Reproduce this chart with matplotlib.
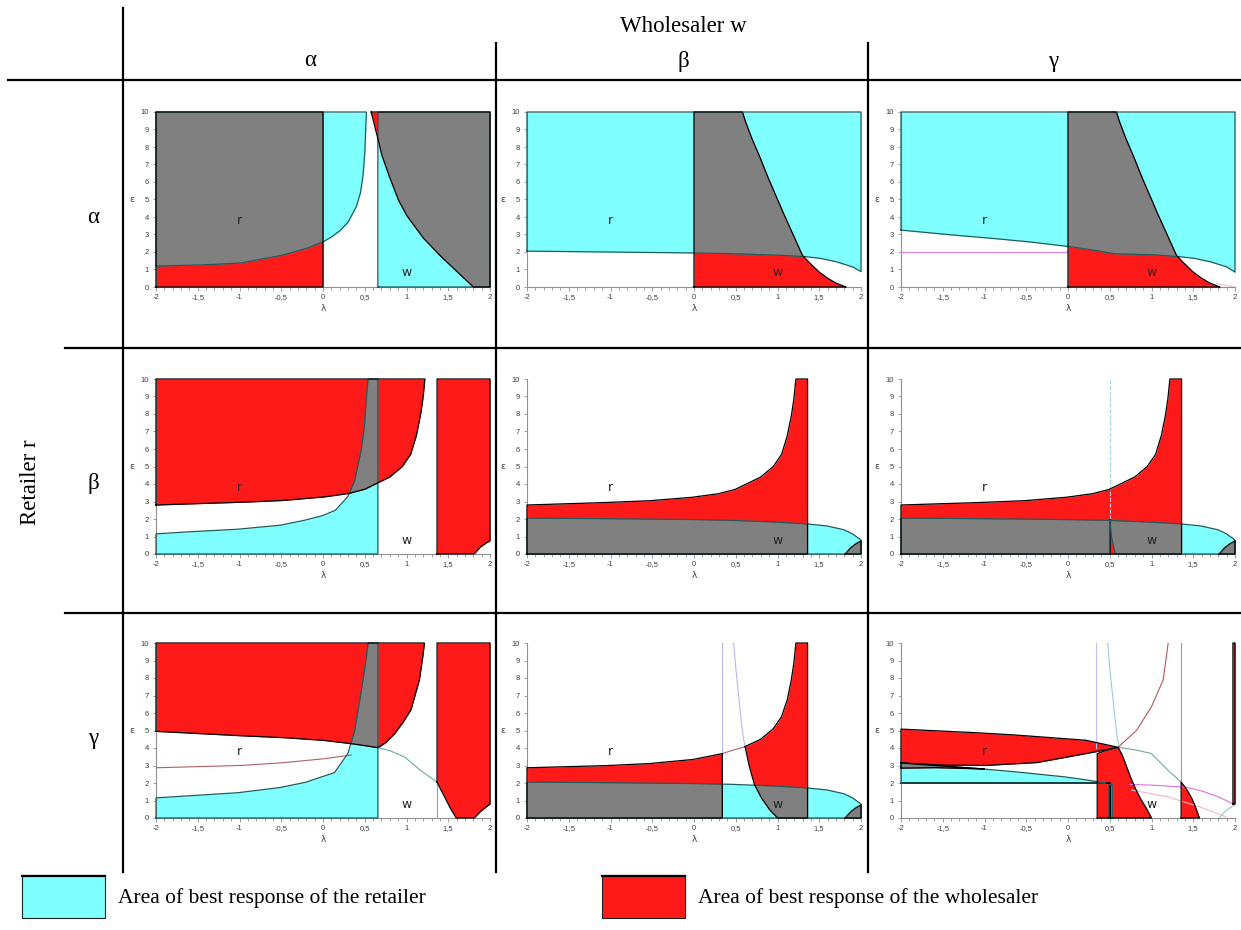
import matplotlib
matplotlib.use("Agg")
import matplotlib.pyplot as plt
import numpy as np
from matplotlib.lines import Line2D
from matplotlib.patches import Rectangle
from matplotlib.ticker import MultipleLocator

W, H = 1241, 930
CYAN, RED, GRAY = "#80ffff", "#ff1a1a", "#808080"
CYAN_EDGE, RED_EDGE = "#1f5c5c", "#000000"

# ---- boundary curves (lambda, epsilon) ----
# row alpha
aa_ret_lam = [-2, -1.5, -1, -0.5, -0.2, 0, 0.1, 0.2, 0.3, 0.4, 0.45, 0.48, 0.5, 0.52]
aa_ret_eps = [1.2, 1.25, 1.36, 1.8, 2.2, 2.58, 2.85, 3.2, 3.7, 4.6, 5.4, 6.4, 7.6, 10]
aa_w_lam = [0.577, 0.657, 0.7, 0.78, 0.9, 1.0, 1.2, 1.4, 1.6, 1.8]
aa_w_eps = [10, 8.5, 7.6, 6.5, 5.0, 4.1, 2.8, 1.8, 0.9, 0]
ab_ret_lam = [-2, -1, 0, 0.5, 1, 1.3, 1.5, 1.7, 1.9, 2]
ab_ret_eps = [2.05, 2.0, 1.95, 1.9, 1.82, 1.75, 1.65, 1.45, 1.15, 0.88]
ab_w_lam = [0.58, 0.62, 0.7, 0.8, 0.9, 1.0, 1.1, 1.2, 1.3, 1.4, 1.5, 1.6, 1.7, 1.82]
ab_w_eps = [10, 9.4, 8.4, 7.3, 6.1, 5.0, 3.9, 2.85, 1.8, 1.3, 0.85, 0.5, 0.22, 0]
ag_ret_lam = [-2, -1.5, -1, -0.5, 0, 0.25, 0.55, 1, 1.3, 1.5, 1.7, 1.9, 2]
ag_ret_eps = [3.25, 3.02, 2.82, 2.6, 2.32, 2.15, 1.9, 1.85, 1.75, 1.65, 1.45, 1.15, 0.85]
# row beta
bt_lam = [-2, -1, -0.5, 0, 0.3, 0.5, 0.65, 0.8, 0.95, 1.05, 1.12, 1.17, 1.2, 1.22]
bt_eps = [2.8, 2.95, 3.05, 3.25, 3.45, 3.7, 4.05, 4.4, 5.0, 5.7, 6.8, 8.0, 9.0, 10]
ba_ret_lam = [-2, -1.5, -1, -0.5, -0.2, 0, 0.15, 0.3, 0.38, 0.46, 0.5, 0.52, 0.54]
ba_ret_eps = [1.15, 1.3, 1.42, 1.65, 1.95, 2.2, 2.5, 3.3, 4.2, 6.0, 7.5, 9.0, 10]
cut_lam = [1.81, 1.88, 1.95, 2.0]
cut_eps = [0, 0.38, 0.62, 0.75]
bb_ret_lam = [-2, -1, 0, 0.5, 1, 1.36, 1.6, 1.8, 1.9, 2]
bb_ret_eps = [2.05, 2.02, 1.97, 1.92, 1.82, 1.72, 1.6, 1.38, 1.15, 0.8]
sliver_lam = [0.5, 0.52, 0.55, 0.57]
sliver_eps = [1.95, 1.0, 0.3, 0]
# row gamma
gt_lam = [-2, -1, -0.5, 0, 0.34, 0.657, 0.75, 0.856, 0.95, 1.055, 1.155, 1.195, 1.215]
gt_eps = [4.95, 4.7, 4.6, 4.44, 4.25, 4.02, 4.3, 4.8, 5.4, 6.2, 7.9, 9.2, 10]
ga_low_lam = [1.366, 1.42, 1.47, 1.52, 1.594, 1.81, 1.88, 2.0]
ga_low_eps = [2.05, 1.55, 1.1, 0.6, 0, 0, 0.35, 0.8]
ga_ret_lam = [-2, -1.5, -1, -0.5, -0.2, 0.14, 0.3, 0.38, 0.46, 0.52, 0.54]
ga_ret_eps = [1.15, 1.3, 1.45, 1.75, 2.05, 2.6, 3.7, 5.0, 7.3, 9.2, 10]
ga_brown_lam = [-2, -1, -0.5, 0, 0.34]
ga_brown_eps = [2.87, 3.0, 3.15, 3.38, 3.6]
ga_teal_lam = [0.657, 0.8, 0.976, 1.175, 1.366]
ga_teal_eps = [4.02, 3.85, 3.49, 2.7, 2.05]
gb_top_lam = [-2, -1, -0.5, 0, 0.34, 0.6, 0.8, 0.95, 1.05, 1.12, 1.17, 1.2, 1.22]
gb_top_eps = [2.87, 3.0, 3.12, 3.35, 3.68, 4.06, 4.5, 5.1, 5.8, 6.8, 8.0, 9.0, 10]
wc_lam = [0.475, 0.5, 0.53, 0.56, 0.59, 0.62, 0.66, 0.72, 0.8, 0.9, 1.0]
wc_eps = [10, 8.6, 7.2, 5.8, 4.6, 3.9, 3.0, 1.95, 1.2, 0.5, 0]
lens_hi_lam = [-2, -1, -0.58, 0.22, 0.6]
lens_hi_eps = [5.08, 4.85, 4.73, 4.44, 4.04]
lens_lo_lam = [-2, -1.5, -1, -0.38, 0.22, 0.6]
lens_lo_eps = [3.15, 3.02, 3.0, 3.16, 3.68, 4.04]
gg_cyan_lam = [-2, -1.6, -1, -0.5, 0, 0.3, 0.45]
gg_cyan_eps = [3.15, 3.0, 2.8, 2.58, 2.33, 2.12, 2.0]
gg_strip_lam = [-2, -1.6, -1.0]
gg_strip_eps = [2.85, 2.88, 2.8]
gg_hc_lam = [0.35, 0.45, 0.6, 0.65, 0.7, 0.76, 0.82, 0.88, 0.94, 1.0]
gg_hc_eps = [3.68, 3.85, 4.04, 3.6, 2.95, 2.2, 1.55, 1.0, 0.55, 0]
gg_r2_lam = [1.355, 1.42, 1.48, 1.53, 1.574]
gg_r2_eps = [2.05, 1.65, 1.15, 0.6, 0]
gg_brown_lam = [0.6, 0.82, 1.0, 1.14, 1.2]
gg_brown_eps = [4.04, 5.0, 6.36, 7.9, 10]
gg_teal_lam = [0.6, 0.8, 1.0, 1.2, 1.355]
gg_teal_eps = [4.04, 3.9, 3.68, 2.72, 2.05]
gg_mag_lam = [0.74, 1.0, 1.41, 1.6, 1.81, 2.0]
gg_mag_eps = [1.92, 1.88, 1.76, 1.55, 1.19, 0.75]
gg_pale_lam = [0.76, 1.2, 1.6, 1.9]
gg_pale_eps = [1.6, 1.2, 0.6, 0.05]

X_TICKS = [-2, -1.5, -1, -0.5, 0, 0.5, 1, 1.5, 2]
X_TICK_LABELS = ["-2", "-1,5", "-1", "-0,5", "0", "0,5", "1", "1,5", "2"]
COL_HEADS = ["α", "β", "γ"]


def C(lam, eps):
    return (lam, eps)


def ev(spec, x):
    if np.isscalar(spec):
        return np.full_like(x, float(spec))
    return np.interp(x, spec[0], spec[1])


def fill(ax, reg, color):
    x0, x1, lo, hi = reg
    x = np.linspace(x0, x1, 800)
    a, b = ev(lo, x), ev(hi, x)
    ax.fill_between(x, a, b, where=b > a, color=color, lw=0, interpolate=True)


def outline(ax, reg, color):
    x0, x1, lo, hi = reg
    x = np.linspace(x0, x1, 800)
    a, b = ev(lo, x), ev(hi, x)
    ok = b > a - 1e-9
    xs, a, b = x[ok], a[ok], b[ok]
    ax.plot(np.r_[xs, xs[::-1], xs[:1]], np.r_[a, b[::-1], a[:1]],
            color=color, lw=0.9, clip_on=False, zorder=4)


def overlap(ax, c, r):
    x0, x1 = max(c[0], r[0]), min(c[1], r[1])
    if x1 <= x0:
        return
    x = np.linspace(x0, x1, 800)
    a = np.maximum(ev(c[2], x), ev(r[2], x))
    b = np.minimum(ev(c[3], x), ev(r[3], x))
    ax.fill_between(x, a, b, where=b > a, color=GRAY, lw=0, interpolate=True)


aa_ret, aa_w = C(aa_ret_lam, aa_ret_eps), C(aa_w_lam, aa_w_eps)
ab_ret, ab_w = C(ab_ret_lam, ab_ret_eps), C(ab_w_lam, ab_w_eps)
ag_ret = C(ag_ret_lam, ag_ret_eps)
bt, ba_ret, cut = C(bt_lam, bt_eps), C(ba_ret_lam, ba_ret_eps), C(cut_lam, cut_eps)
bb_ret, sliver = C(bb_ret_lam, bb_ret_eps), C(sliver_lam, sliver_eps)
gt, ga_low, ga_ret = C(gt_lam, gt_eps), C(ga_low_lam, ga_low_eps), C(ga_ret_lam, ga_ret_eps)
gb_top, wc = C(gb_top_lam, gb_top_eps), C(wc_lam, wc_eps)
lens_hi, lens_lo = C(lens_hi_lam, lens_hi_eps), C(lens_lo_lam, lens_lo_eps)
gg_cyan, gg_strip = C(gg_cyan_lam, gg_cyan_eps), C(gg_strip_lam, gg_strip_eps)
gg_hc, gg_r2 = C(gg_hc_lam, gg_hc_eps), C(gg_r2_lam, gg_r2_eps)

# (cyan regions, red regions, thin lines) for each panel
PANELS = {
    (0, 0): ([(-2, 0.52, aa_ret, 10), (0.657, 2, 0, 10)],
             [(-2, 0, 0, 10), (0.577, 2, aa_w, 10)], []),
    (0, 1): ([(-2, 2, ab_ret, 10)], [(0, 1.82, 0, ab_w)], []),
    (0, 2): ([(-2, 2, ag_ret, 10)], [(0, 1.82, 0, ab_w)],
             [([-2, 0], [2.0, 2.0], "#e080e0", "-"),
              ([1.78, 1.9, 2.0], [0.2, 0.08, 0.0], "#f4c0c8", "-")]),
    (1, 0): ([(-2, 0.657, 0, ba_ret)],
             [(-2, 1.22, bt, 10), (1.366, 2, cut, 10)], []),
    (1, 1): ([(-2, 2, 0, bb_ret)],
             [(-2, 1.36, 0, bt), (1.81, 2, 0, cut)], []),
    (1, 2): ([(-2, 0.5, 0, bb_ret), (0.5, 2, sliver, bb_ret)],
             [(-2, 1.36, 0, bt), (1.81, 2, 0, cut)],
             [([0.5, 0.5], [2.0, 10], "#9fd6ee", "--"),
              ([0.5, 0.5], [0, 1.95], "#000000", "-")]),
    (2, 0): ([(-2, 0.657, 0, ga_ret)],
             [(-2, 1.215, gt, 10), (1.366, 2, ga_low, 10)],
             [(ga_brown_lam, ga_brown_eps, "#b06060", "-"),
              (ga_teal_lam, ga_teal_eps, "#6aa8a8", "-"),
              ([1.366, 1.366], [0, 2.05], "#c09090", "-")]),
    (2, 1): ([(-2, 2, 0, bb_ret)],
             [(-2, 0.339, 0, gb_top), (0.6, 1.36, wc, gb_top), (1.81, 2, 0, cut)],
             [([0.339, 0.339], [3.68, 10], "#b8b8ee", "-"),
              (wc_lam[:6], wc_eps[:6], "#b8b8ee", "-"),
              ([0.339, 0.45, 0.6], [3.68, 3.85, 4.06], "#b06060", "-")]),
    (2, 2): ([(-2, 0.45, 2.0, gg_cyan), (0.49, 0.53, 0, 1.9)],
             [(-2, 0.6, lens_lo, lens_hi), (-2, -1.0, gg_strip, gg_cyan),
              (0.35, 1.0, 0, gg_hc), (1.355, 1.574, 0, gg_r2), (1.975, 2.0, 0.8, 10)],
             [([0.33, 0.33], [4.0, 10], "#c0c0f0", "-"),
              (wc_lam[:6], wc_eps[:6], "#9cc8e8", "-"),
              (gg_brown_lam, gg_brown_eps, "#b05a5a", "-"),
              ([1.355, 1.355], [2.05, 10], "#c88c8c", "-"),
              (gg_teal_lam, gg_teal_eps, "#70a8a8", "-"),
              (gg_mag_lam, gg_mag_eps, "#e070e0", "-"),
              (gg_pale_lam, gg_pale_eps, "#f0b8c4", "-"),
              (cut_lam, cut_eps, "#90c8c8", "-"),
              ([-2, 0.5, 0.5], [2.0, 2.0, 0], "#000000", "-")]),
}

fig = plt.figure(figsize=(W / 100, H / 100), dpi=100)
fig.patch.set_facecolor("white")

COL_LEFT = [156, 527, 901]
ROW_TOP = [112, 379, 643]
AX_W, AX_H = 334, 175

for (r, c), (cyans, reds, lines) in PANELS.items():
    ax = fig.add_axes([COL_LEFT[c] / W, 1 - (ROW_TOP[r] + AX_H) / H, AX_W / W, AX_H / H])
    ax.set_xlim(-2, 2)
    ax.set_ylim(0, 10)
    for reg in cyans:
        fill(ax, reg, CYAN)
    for reg in reds:
        fill(ax, reg, RED)
    for cr in cyans:
        for rr in reds:
            overlap(ax, cr, rr)
    for lx, ly, col, ls in lines:
        ax.plot(lx, ly, color=col, lw=1.3 if col == "#000000" else 0.8, ls=ls, zorder=3)
    for reg in cyans:
        outline(ax, reg, CYAN_EDGE)
    for reg in reds:
        outline(ax, reg, RED_EDGE)
    ax.text(-1, 3.8, "r", fontsize=9, color="#222222", ha="center", va="center", zorder=6)
    ax.text(1, 0.8, "w", fontsize=9, color="#222222", ha="center", va="center", zorder=6)
    for s in ("top", "right"):
        ax.spines[s].set_visible(False)
    for s in ("left", "bottom"):
        ax.spines[s].set_color("#909090")
        ax.spines[s].set_linewidth(0.8)
    ax.set_yticks(range(0, 11))
    ax.set_xticks(X_TICKS)
    ax.set_xticklabels(X_TICK_LABELS)
    ax.xaxis.set_minor_locator(MultipleLocator(0.1))
    ax.tick_params(axis="both", which="both", direction="out", colors="#909090",
                   labelcolor="#404040", labelsize=5.5, width=0.6)
    ax.tick_params(axis="x", which="major", length=3, pad=2)
    ax.tick_params(axis="x", which="minor", length=2)
    ax.tick_params(axis="y", length=2.5, pad=2.5)
    for lab in ax.get_xticklabels() + ax.get_yticklabels():
        lab.set_family("Liberation Sans")
    ax.set_xlabel("λ", fontsize=6.5, color="#404040", labelpad=2)
    ax.set_ylabel("ε", fontsize=6.5, color="#404040", rotation=0, labelpad=6, va="center")
    ax.set_facecolor("none")


def fx(x):
    return x / W


def fy(y):
    return 1 - y / H


# table lines
for x0, y0, x1, y1 in [(123, 8, 123, 872), (496, 43, 496, 872), (868, 43, 868, 872),
                       (8, 80, 1241, 80), (65, 348, 1241, 348), (65, 613, 1241, 613)]:
    fig.add_artist(Line2D([fx(x0), fx(x1)], [fy(y0), fy(y1)], color="black", lw=1.6))

SERIF = "Liberation Serif"
fig.text(fx(683), fy(27), "Wholesaler w", fontsize=16.5, family=SERIF, ha="center", va="center")
for i, xc in enumerate([310, 683, 1053]):
    fig.text(fx(xc), fy(61), COL_HEADS[i], fontsize=16.5, family=SERIF, ha="center", va="center")
for i, yc in enumerate([217, 484, 738]):
    fig.text(fx(93), fy(yc), COL_HEADS[i], fontsize=16.5, family=SERIF, ha="center", va="center")
fig.text(fx(30), fy(482), "Retailer r", fontsize=16.5, family=SERIF, rotation=90,
         ha="center", va="center")

# legend
for x0, col, label in [(22, CYAN, "Area of best response of the retailer"),
                       (602, RED, "Area of best response of the wholesaler")]:
    fig.add_artist(Rectangle((fx(x0), fy(918)), 83 / W, 43 / H, facecolor=col,
                             edgecolor="#202020", lw=0.8, transform=fig.transFigure))
    fig.add_artist(Line2D([fx(x0), fx(x0 + 83)], [fy(876), fy(876)], color="black", lw=1.6))
    fig.text(fx(x0 + 96), fy(898), label, fontsize=15.5, family=SERIF, ha="left", va="center")

fig.savefig("out.png", dpi=100, facecolor="white")
